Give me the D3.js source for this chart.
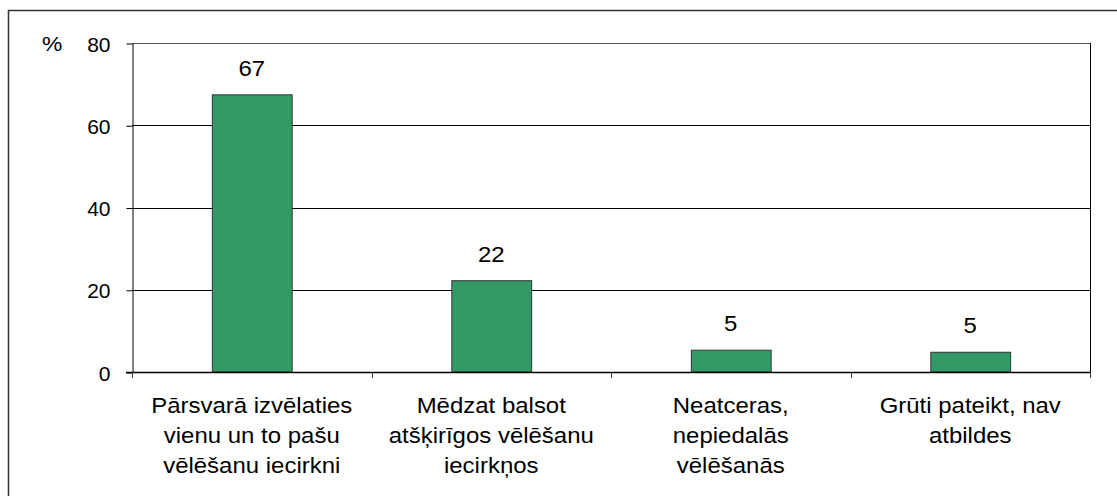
<!DOCTYPE html>
<html>
<head>
<meta charset="utf-8">
<script src="https://cdn.jsdelivr.net/npm/d3@7"></script>
<style>
  body { margin: 0; background: #fff; }
  svg { display: block; font-family: "Liberation Sans", Arial, sans-serif; }
</style>
</head>
<body>
<script>
    const categories = [
      ['Pārsvarā izvēlaties', 'vienu un to pašu', 'vēlēšanu iecirkni'],
      ['Mēdzat balsot', 'atšķirīgos vēlēšanu', 'iecirkņos'],
      ['Neatceras,', 'nepiedalās', 'vēlēšanās'],
      ['Grūti pateikt, nav', 'atbildes']
    ];
    const values = [67.4, 22.2, 5.3, 4.8];
    const valueLabels = ['67', '22', '5', '5'];
    const yTicks = [0, 20, 40, 60, 80];
    const yUnit = '%';

    const W = 1117;
    const H = 496;
    const plot = { left: 132, right: 1090, top: 43, bottom: 372 };

    const svg = d3.select('body').append('svg')
      .attr('width', W)
      .attr('height', H);

    // outer frame, cut off on the right and bottom like the original
    svg.append('rect')
      .attr('x', 8.5)
      .attr('y', 10.5)
      .attr('width', 1200)
      .attr('height', 600)
      .attr('fill', 'none')
      .attr('stroke', '#333')
      .attr('stroke-width', 1.5);

    const x = d3.scaleBand()
      .domain(d3.range(categories.length))
      .range([plot.left, plot.right]);

    const y = d3.scaleLinear()
      .domain([0, 80])
      .range([plot.bottom, plot.top]);

    // gridlines
    svg.append('g')
      .selectAll('line')
      .data(yTicks.filter(t => t > 0))
      .join('line')
      .attr('x1', plot.left)
      .attr('x2', plot.right)
      .attr('y1', d => Math.round(y(d)) + 0.5)
      .attr('y2', d => Math.round(y(d)) + 0.5)
      .attr('stroke', d => d === 80 ? '#555' : '#000')
      .attr('stroke-width', 1);

    // right border of plot area
    svg.append('line')
      .attr('x1', plot.right + 0.5)
      .attr('x2', plot.right + 0.5)
      .attr('y1', plot.top)
      .attr('y2', plot.bottom)
      .attr('stroke', '#000');

    // bars
    const bw = x.bandwidth() / 3;
    svg.append('g')
      .selectAll('rect')
      .data(values)
      .join('rect')
      .attr('x', (d, i) => x(i) + bw + 0.5)
      .attr('y', d => y(d))
      .attr('width', bw)
      .attr('height', d => y(0) - y(d))
      .attr('fill', '#339966')
      .attr('stroke', '#333')
      .attr('stroke-width', 1);

    // value labels
    svg.append('g')
      .selectAll('text')
      .data(values)
      .join('text')
      .attr('transform', (d, i) => `translate(${x(i) + x.bandwidth() / 2}, ${y(d) - 19}) scale(1.09,1)`)
      .attr('text-anchor', 'middle')
      .attr('font-size', 22)
      .attr('fill', '#000')
      .text((d, i) => valueLabels[i]);

    // y axis
    const yAxis = svg.append('g')
      .attr('transform', `translate(${plot.left + 0.5}, 0.5)`)
      .call(d3.axisLeft(y).tickValues(yTicks).tickSize(6).tickPadding(16).tickSizeOuter(0));
    yAxis.select('.domain').attr('stroke', '#000');
    yAxis.selectAll('.tick line').attr('stroke', '#000');
    yAxis.selectAll('.tick text')
      .attr('font-size', 21)
      .attr('font-family', '"Liberation Sans", Arial, sans-serif')
      .attr('fill', '#000')
      .attr('dy', '0.36em');

    svg.append('text')
      .attr('transform', `translate(42, ${y(80) + 8}) scale(1.09,1)`)
      .attr('font-size', 21)
      .attr('fill', '#000')
      .text(yUnit);

    // x axis baseline and boundary ticks
    svg.append('line')
      .attr('x1', plot.left - 6)
      .attr('x2', plot.right)
      .attr('y1', y(0) + 0.5)
      .attr('y2', y(0) + 0.5)
      .attr('stroke', '#000')
      .attr('stroke-width', 1.5);

    const bounds = x.domain().map(i => x(i)).concat([plot.right]);
    svg.append('g')
      .selectAll('line')
      .data(bounds)
      .join('line')
      .attr('x1', d => Math.round(d) + 0.5)
      .attr('x2', d => Math.round(d) + 0.5)
      .attr('y1', y(0))
      .attr('y2', y(0) + 6)
      .attr('stroke', '#333');

    // category labels
    const catG = svg.append('g')
      .selectAll('g')
      .data(categories)
      .join('g')
      .attr('transform', (d, i) => `translate(${x(i) + x.bandwidth() / 2}, 413)`);

    catG.selectAll('text')
      .data(d => d)
      .join('text')
      .attr('transform', (d, j) => `translate(0, ${j * 30}) scale(1.09,1)`)
      .attr('text-anchor', 'middle')
      .attr('font-size', 22)
      .attr('fill', '#000')
      .text(d => d);
</script>
</body>
</html>
